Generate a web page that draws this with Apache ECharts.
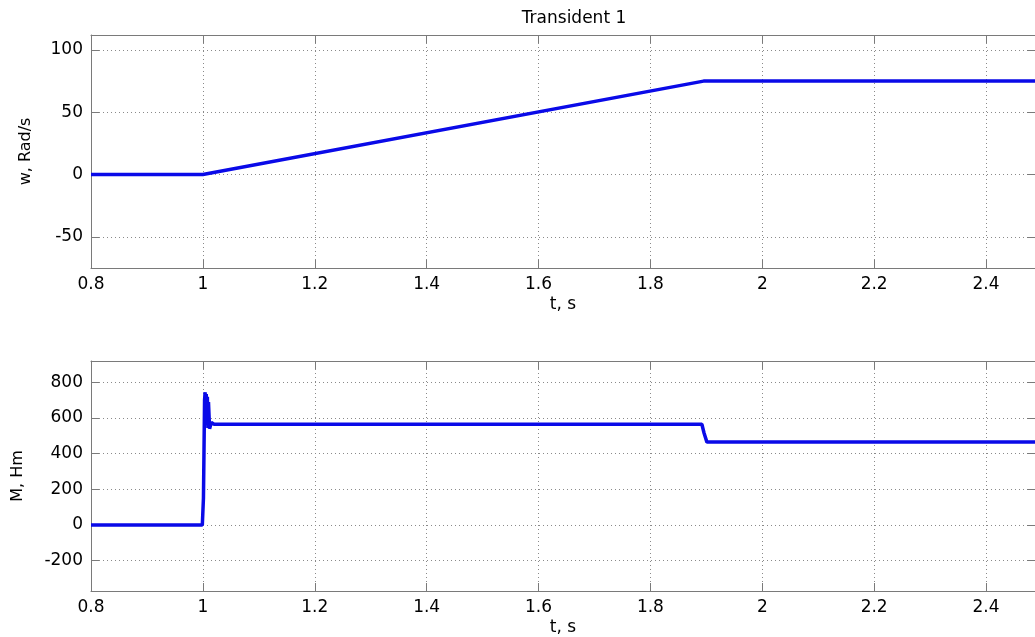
<!DOCTYPE html>
<html>
<head>
<meta charset="utf-8">
<script src="https://cdn.jsdelivr.net/npm/echarts@6/dist/echarts.min.js"></script>
<style>
  html, body { margin: 0; padding: 0; background: #fff; }
  #chart { width: 1035px; height: 637px; }
</style>
</head>
<body>
<div id="chart"></div>
<script>
  // speed, top plot
  const tW = [0.8, 1.0, 1.895, 2.49]
  const wVals = [0, 0, 75, 75]
  // torque, bottom plot
  const tM = [0.8, 0.999, 1.001, 1.002, 1.003, 1.004, 1.005, 1.006, 1.007, 1.008, 1.009, 1.010, 1.012, 1.015, 1.02, 1.892, 1.896, 1.901, 2.49]
  const mVals = [0, 0, 150, 420, 700, 745, 600, 735, 560, 720, 545, 690, 540, 575, 565, 565, 515, 465, 465]

  const titleText = 'Transident 1'
  const xName = 't, s'
  const wName = 'w, Rad/s'
  const mName = 'M, Hm'

  // the picture is cut at the right, the last visible time is about 2.4875
  const xMin = 0.8
  const xMax = 2.4875

  const font = 'DejaVu Sans'
  const boxColor = '#7a7a7a'
  const lineColor = '#0a0ae8'

  function xfmt(v) {
    return String(+v.toFixed(1))
  }

  function xAx(grid, top) {
    return {
      type: 'value', gridIndex: grid, position: top ? 'top' : 'bottom',
      min: xMin, max: xMax, interval: 0.2,
      name: top ? '' : xName, nameLocation: 'middle', nameGap: 28,
      nameTextStyle: { fontFamily: font, fontSize: 17, color: '#000' },
      axisLine: { show: true, onZero: false, lineStyle: { color: boxColor } },
      axisTick: { show: true, inside: true, length: 8, lineStyle: { color: boxColor } },
      axisLabel: { show: !top, showMaxLabel: false, margin: 8, formatter: xfmt,
        fontFamily: font, fontSize: 17, color: '#000' },
      splitLine: { show: !top, lineStyle: { color: '#8a8a8a', type: [1, 3] } }
    }
  }

  function yAx(grid, right, lo, hi, step, name, gap) {
    return {
      type: 'value', gridIndex: grid, position: right ? 'right' : 'left',
      min: lo, max: hi, minInterval: step, maxInterval: step, splitNumber: 5,
      name: right ? '' : name, nameLocation: 'middle', nameGap: gap,
      nameTextStyle: { fontFamily: font, fontSize: 16, color: '#000' },
      axisLine: { show: !right, onZero: false, lineStyle: { color: boxColor } },
      axisTick: { show: true, inside: true, length: 8, lineStyle: { color: boxColor } },
      axisLabel: { show: !right, showMinLabel: false, showMaxLabel: false, margin: 8,
        fontFamily: font, fontSize: 17, color: '#000' },
      splitLine: { show: !right, lineStyle: { color: '#8a8a8a', type: [1, 3] } }
    }
  }

  const chart = echarts.init(document.getElementById('chart'))
  chart.setOption({
    animation: false,
    backgroundColor: '#fff',
    title: {
      text: titleText, left: 569, top: 5, textAlign: 'center',
      textStyle: { fontFamily: font, fontSize: 17, fontWeight: 'normal', color: '#000' }
    },
    grid: [
      { left: 91, top: 35, right: 0, height: 233 },
      { left: 91, top: 361, right: 0, height: 232 }
    ],
    xAxis: [xAx(0, false), xAx(0, true), xAx(1, false), xAx(1, true)],
    yAxis: [
      yAx(0, false, -75, 112, 50, wName, 57),
      yAx(0, true, -75, 112, 50, wName, 57),
      yAx(1, false, -370, 920, 200, mName, 65),
      yAx(1, true, -370, 920, 200, mName, 65)
    ],
    series: [
      {
        type: 'line', xAxisIndex: 0, yAxisIndex: 0, symbol: 'none',
        lineStyle: { color: lineColor, width: 3.5 },
        data: tW.map((t, i) => [t, wVals[i]])
      },
      {
        type: 'line', xAxisIndex: 2, yAxisIndex: 2, symbol: 'none',
        lineStyle: { color: lineColor, width: 3.5 },
        data: tM.map((t, i) => [t, mVals[i]])
      }
    ]
  })
</script>
</body>
</html>
